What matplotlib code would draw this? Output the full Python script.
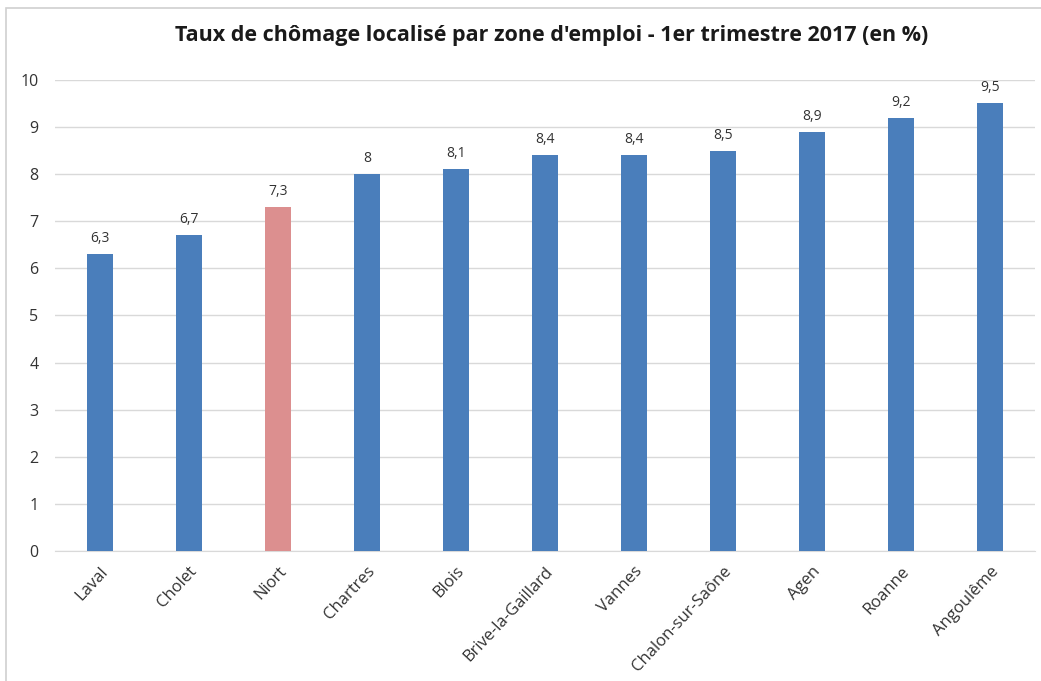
import matplotlib.pyplot as plt
from matplotlib.patches import Rectangle

# data
zones = ["Laval", "Cholet", "Niort", "Chartres", "Blois", "Brive-la-Gaillard",
         "Vannes", "Chalon-sur-Saône", "Agen", "Roanne", "Angoulême"]
taux = [6.3, 6.7, 7.3, 8.0, 8.1, 8.4, 8.4, 8.5, 8.9, 9.2, 9.5]
labels = ["6,3", "6,7", "7,3", "8", "8,1", "8,4", "8,4", "8,5", "8,9", "9,2", "9,5"]
highlight = "Niort"

BLUE = "#4a7ebb"
PINK = "#dc8f8f"
TXT = "#333333"

plt.rcParams['font.family'] = ['Open Sans', 'DejaVu Sans']

fig = plt.figure(figsize=(10.41, 6.81), dpi=100)
fig.patch.set_facecolor("white")
# light frame around the chart
fig.patches.append(Rectangle((0.006, -0.01), 1.0, 0.998, transform=fig.transFigure,
                             fill=False, edgecolor="#d0d0d0", linewidth=1.2))

ax = fig.add_axes([0.053, 0.191, 0.941, 0.6916])

colors = [PINK if z == highlight else BLUE for z in zones]
x = range(len(zones))
ax.bar(x, taux, width=0.29, color=colors, zorder=3)

for i, (v, lab) in enumerate(zip(taux, labels)):
    ax.text(i, v + 0.17, lab, ha="center", va="bottom", fontsize=10, color=TXT)

ax.set_ylim(0, 10)
ax.set_xlim(-0.5, len(zones) - 0.5)
ax.set_yticks(range(0, 11))
ax.yaxis.grid(True, color="#d9d9d9", linewidth=1, zorder=0)
ax.tick_params(axis="y", length=0, labelsize=11.5, labelcolor=TXT, pad=12)
ax.tick_params(axis="x", length=0, labelsize=12, labelcolor=TXT, pad=9)
ax.set_xticks(list(x))
ax.set_xticklabels(zones, rotation=47, ha="right", va="top", rotation_mode="anchor")
for s in ["top", "right", "left"]:
    ax.spines[s].set_visible(False)
ax.spines["bottom"].set_color("#d9d9d9")

fig.text(0.53, 0.948, "Taux de chômage localisé par zone d'emploi - 1er trimestre 2017 (en %)",
         ha="center", va="center", fontsize=15.5, fontweight="bold", color="#1a1a1a")

fig.savefig("out.png", dpi=100)
